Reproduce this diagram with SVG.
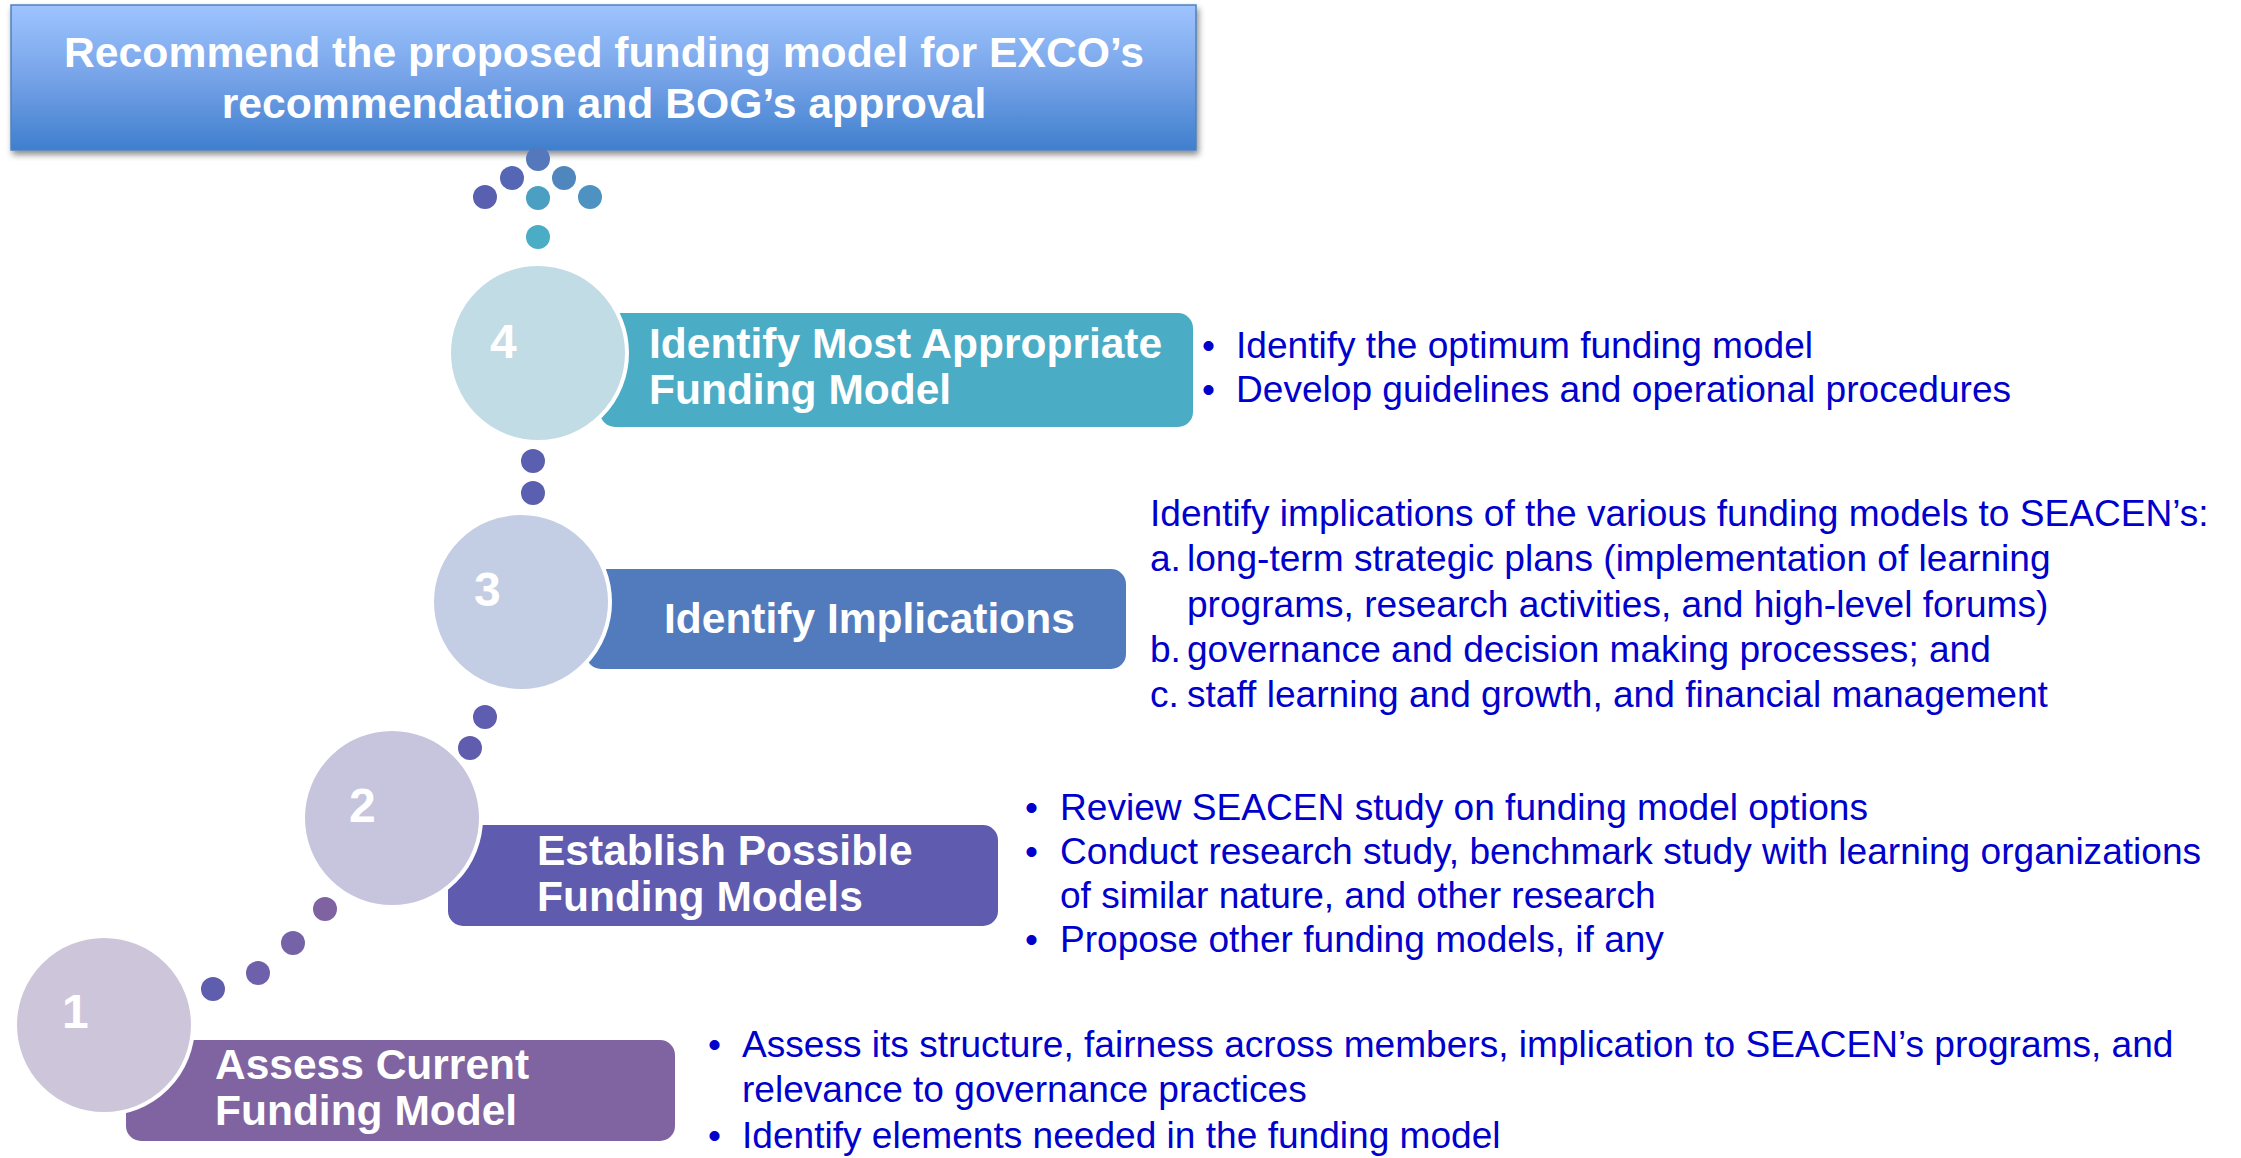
<svg xmlns="http://www.w3.org/2000/svg" width="2241" height="1158" viewBox="0 0 2241 1158">
  <defs>
    <linearGradient id="goalFill" x1="0" y1="0" x2="0" y2="1">
      <stop offset="0" stop-color="#9EC4FE"/>
      <stop offset="0.5" stop-color="#76A3E8"/>
      <stop offset="1" stop-color="#3F7FCD"/>
    </linearGradient>
    <filter id="dropShadow" x="-5%" y="-10%" width="110%" height="130%">
      <feDropShadow dx="2" dy="4" stdDeviation="3" flood-color="#000" flood-opacity="0.45"/>
    </filter>
    <style>
      .goalText { font-family: "Liberation Sans", Arial, sans-serif; font-weight: bold; font-size: 42.7px; fill: #FFFFFF; }
      .stepText { font-family: "Liberation Sans", Arial, sans-serif; font-weight: bold; font-size: 42.5px; fill: #FFFFFF; }
      .stepNum { font-family: "Liberation Sans", Arial, sans-serif; font-weight: bold; font-size: 48px; fill: #FFFFFF; }
      .body { font-family: "Liberation Sans", Arial, sans-serif; font-size: 37.1px; fill: #0000CC; }
      .disc { stroke: #FFFFFF; stroke-width: 4; }
    </style>
  </defs>

  <rect width="2241" height="1158" fill="#FFFFFF"/>

  <!-- goal banner -->
  <g id="goal">
    <rect x="11" y="5" width="1185" height="145" fill="url(#goalFill)" stroke="#4F81BD" stroke-width="1.5" filter="url(#dropShadow)"/>
    <text class="goalText" x="604" y="67" text-anchor="middle">Recommend the proposed funding model for EXCO’s</text>
    <text class="goalText" x="604" y="118" text-anchor="middle">recommendation and BOG’s approval</text>
  </g>

  <!-- dotted connectors between the steps -->
  <g id="connectors">
    <circle cx="538" cy="159" r="12" fill="#5577BB"/>
    <circle cx="512" cy="178" r="12" fill="#5566B5"/>
    <circle cx="564" cy="178" r="12" fill="#4F86BD"/>
    <circle cx="485" cy="197" r="12" fill="#5A60B0"/>
    <circle cx="538" cy="198" r="12" fill="#4B9FC2"/>
    <circle cx="590" cy="197" r="12" fill="#4D92C1"/>
    <circle cx="538" cy="237" r="12" fill="#4AADC5"/>

    <circle cx="533" cy="461" r="12" fill="#5B5FB0"/>
    <circle cx="533" cy="493" r="12" fill="#5B5FB0"/>

    <circle cx="485" cy="717" r="12" fill="#5F5DAF"/>
    <circle cx="470" cy="748" r="12" fill="#605CAE"/>

    <circle cx="325" cy="909" r="12" fill="#7E62A2"/>
    <circle cx="293" cy="943" r="12" fill="#7662A6"/>
    <circle cx="258" cy="973" r="12" fill="#6E60AA"/>
    <circle cx="213" cy="989" r="12" fill="#5F5EAE"/>
  </g>

  <!-- step 4 -->
  <g id="step4">
    <rect x="600" y="313" width="593" height="114" rx="15" fill="#4BACC6"/>
    <circle class="disc" cx="538" cy="353" r="89" fill="#C1DCE5"/>
    <text class="stepNum" x="490" y="358">4</text>
    <text class="stepText" x="649" y="358">Identify Most Appropriate</text>
    <text class="stepText" x="649" y="404">Funding Model</text>
    <text class="body" x="1202" y="358">•</text>
    <text class="body" x="1236" y="358">Identify the optimum funding model</text>
    <text class="body" x="1202" y="402">•</text>
    <text class="body" x="1236" y="402">Develop guidelines and operational procedures</text>
  </g>

  <!-- step 3 -->
  <g id="step3">
    <rect x="586" y="569" width="540" height="100" rx="15" fill="#527BBD"/>
    <circle class="disc" cx="521" cy="602" r="89" fill="#C3CDE3"/>
    <text class="stepNum" x="474" y="606">3</text>
    <text class="stepText" x="664" y="633">Identify Implications</text>
    <text class="body" x="1150" y="526">Identify implications of the various funding models to SEACEN’s:</text>
    <text class="body" x="1150" y="571">a.</text>
    <text class="body" x="1187" y="571">long-term strategic plans (implementation of learning</text>
    <text class="body" x="1187" y="617">programs, research activities, and high-level forums)</text>
    <text class="body" x="1150" y="662">b.</text>
    <text class="body" x="1187" y="662">governance and decision making processes; and</text>
    <text class="body" x="1150" y="707">c.</text>
    <text class="body" x="1187" y="707">staff learning and growth, and financial management</text>
  </g>

  <!-- step 2 -->
  <g id="step2">
    <rect x="448" y="825" width="550" height="101" rx="15" fill="#5F5BAE"/>
    <circle class="disc" cx="392" cy="818" r="89" fill="#C7C5DE"/>
    <text class="stepNum" x="349" y="822">2</text>
    <text class="stepText" x="537" y="865">Establish Possible</text>
    <text class="stepText" x="537" y="911">Funding Models</text>
    <text class="body" x="1025" y="820">•</text>
    <text class="body" x="1060" y="820">Review SEACEN study on funding model options</text>
    <text class="body" x="1025" y="864">•</text>
    <text class="body" x="1060" y="864">Conduct research study, benchmark study with learning organizations</text>
    <text class="body" x="1060" y="908">of similar nature, and other research</text>
    <text class="body" x="1025" y="952">•</text>
    <text class="body" x="1060" y="952">Propose other funding models, if any</text>
  </g>

  <!-- step 1 -->
  <g id="step1">
    <rect x="126" y="1040" width="549" height="101" rx="15" fill="#8064A2"/>
    <circle class="disc" cx="104" cy="1025" r="89" fill="#CDC6DA"/>
    <text class="stepNum" x="62" y="1028">1</text>
    <text class="stepText" x="215" y="1079">Assess Current</text>
    <text class="stepText" x="215" y="1125">Funding Model</text>
    <text class="body" x="708" y="1057">•</text>
    <text class="body" x="742" y="1057">Assess its structure, fairness across members, implication to SEACEN’s programs, and</text>
    <text class="body" x="742" y="1102">relevance to governance practices</text>
    <text class="body" x="708" y="1148">•</text>
    <text class="body" x="742" y="1148">Identify elements needed in the funding model</text>
  </g>
</svg>
